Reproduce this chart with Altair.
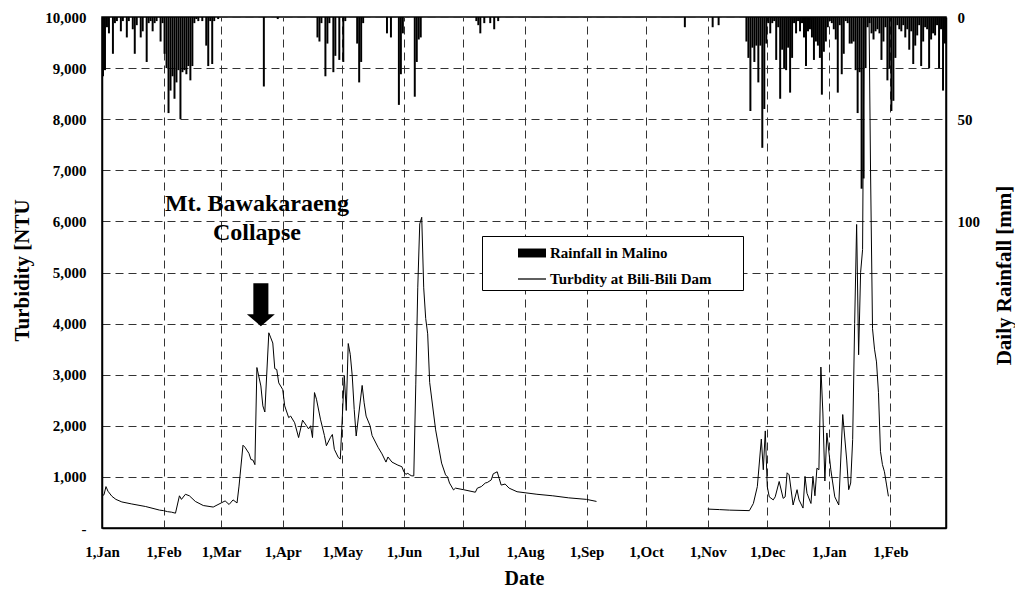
import altair as alt
import pandas as pd

# ---------------- data ----------------
turb_dates = [
    "2004-01-01", "2004-01-02", "2004-01-03", "2004-01-04", "2004-01-06", "2004-01-08", "2004-01-11",
    "2004-01-16", "2004-01-23", "2004-01-30", "2004-02-01", "2004-02-03", "2004-02-05", "2004-02-07",
    "2004-02-09", "2004-02-10", "2004-02-12", "2004-02-14", "2004-02-17", "2004-02-21", "2004-02-26",
    "2004-03-01", "2004-03-03", "2004-03-05", "2004-03-07", "2004-03-09", "2004-03-10", "2004-03-12",
    "2004-03-13", "2004-03-15", "2004-03-16", "2004-03-17", "2004-03-18", "2004-03-19", "2004-03-21",
    "2004-03-22", "2004-03-23", "2004-03-25", "2004-03-26", "2004-03-27", "2004-03-28", "2004-03-29",
    "2004-03-30", "2004-04-01", "2004-04-02", "2004-04-04", "2004-04-05", "2004-04-07", "2004-04-09",
    "2004-04-11", "2004-04-13", "2004-04-14", "2004-04-15", "2004-04-16", "2004-04-17", "2004-04-18",
    "2004-04-20", "2004-04-22", "2004-04-23", "2004-04-25", "2004-04-26", "2004-04-27", "2004-04-29",
    "2004-04-30", "2004-05-02", "2004-05-03", "2004-05-04", "2004-05-05", "2004-05-06", "2004-05-07",
    "2004-05-08", "2004-05-11", "2004-05-12", "2004-05-13", "2004-05-15", "2004-05-16", "2004-05-19",
    "2004-05-21", "2004-05-23", "2004-05-24", "2004-05-26", "2004-05-29", "2004-05-31", "2004-06-01",
    "2004-06-02", "2004-06-03", "2004-06-04", "2004-06-05", "2004-06-06", "2004-06-07", "2004-06-08",
    "2004-06-09", "2004-06-10", "2004-06-11", "2004-06-12", "2004-06-13", "2004-06-14", "2004-06-17",
    "2004-06-20", "2004-06-22", "2004-06-23", "2004-06-24", "2004-06-26", "2004-06-27", "2004-07-01",
    "2004-07-07", "2004-07-08", "2004-07-10", "2004-07-12", "2004-07-13", "2004-07-15", "2004-07-16",
    "2004-07-18", "2004-07-19", "2004-07-20", "2004-07-22", "2004-07-24", "2004-07-28", "2004-08-01",
    "2004-08-07", "2004-08-15", "2004-08-23", "2004-09-01", "2004-09-06",
    "2004-11-01", "2004-11-07", "2004-11-12", "2004-11-22", "2004-11-24", "2004-11-26", "2004-11-28",
    "2004-11-29", "2004-11-30", "2004-12-01", "2004-12-02", "2004-12-04", "2004-12-05", "2004-12-07",
    "2004-12-09", "2004-12-10", "2004-12-11", "2004-12-12", "2004-12-14", "2004-12-16", "2004-12-17",
    "2004-12-19", "2004-12-20", "2004-12-21", "2004-12-23", "2004-12-24", "2004-12-25", "2004-12-26",
    "2004-12-27", "2004-12-28", "2004-12-29", "2004-12-30", "2004-12-31", "2005-01-02", "2005-01-04",
    "2005-01-06", "2005-01-08", "2005-01-10", "2005-01-11", "2005-01-12", "2005-01-13", "2005-01-14",
    "2005-01-15", "2005-01-16", "2005-01-17", "2005-01-18", "2005-01-19", "2005-01-20", "2005-01-21",
    "2005-01-22", "2005-01-23", "2005-01-24", "2005-01-25", "2005-01-26", "2005-01-27", "2005-01-28",
    "2005-01-29", "2005-01-30", "2005-01-31",
]
turb_values = [
    630, 650, 810, 720, 620, 560, 510,
    470, 420, 350, 340, 320, 310, 290,
    630, 560, 660, 630, 520, 440, 410,
    490, 530, 460, 550, 490, 820, 1620,
    1580, 1460, 1340, 1330, 1240, 3140, 2780,
    2390, 2270, 3820, 3720, 3620, 3120, 3100,
    2840, 2710, 2390, 2160, 2190, 2060, 1770,
    2110, 2000, 1940, 2000, 1770, 2650, 2520,
    2130, 1810, 1610, 1770, 1830, 1540, 1380,
    1350, 2980, 2300, 3610, 3400, 2980, 2320,
    1800, 2790, 2450, 2190, 2000, 1810, 1580,
    1450, 1290, 1390, 1290, 1230, 1200, 1100,
    1050, 1070, 1040, 1020, 1020, 2800, 4700,
    5950, 6080, 4700, 4100, 3800, 2850, 1920,
    1270, 1040, 1000, 880, 745, 780, 750,
    700, 780, 810, 880, 890, 940, 1060,
    1100, 970, 840, 860, 780, 710, 690,
    660, 630, 590, 560, 520,
    370, 360, 350, 340, 480, 810, 1740,
    1140, 1900, 810, 610, 550, 610, 910,
    580, 610, 1080, 1040, 450, 750, 550,
    390, 1010, 680, 480, 1010, 630, 1170,
    1140, 3150, 2250, 920, 1860, 1140, 610,
    450, 2220, 1330, 750, 880, 1730, 4000,
    5940, 3390, 5000, 5450, 11500, 12500, 11000,
    7000, 3900, 3500, 3250, 2650, 1500, 1240,
    1100, 860, 620,
]

rain_dates = [
    "2004-01-01", "2004-01-02", "2004-01-03", "2004-01-04", "2004-01-06", "2004-01-07", "2004-01-08",
    "2004-01-10", "2004-01-11", "2004-01-13", "2004-01-14", "2004-01-16", "2004-01-17", "2004-01-18",
    "2004-01-20", "2004-01-21", "2004-01-23", "2004-01-24", "2004-01-25", "2004-01-26", "2004-01-27",
    "2004-01-28", "2004-01-30", "2004-01-31", "2004-02-01", "2004-02-02", "2004-02-03", "2004-02-04",
    "2004-02-05", "2004-02-06", "2004-02-07", "2004-02-08", "2004-02-09", "2004-02-10", "2004-02-11",
    "2004-02-12", "2004-02-13", "2004-02-14", "2004-02-15", "2004-02-16", "2004-02-17", "2004-02-18",
    "2004-02-20", "2004-02-22", "2004-02-23", "2004-02-24", "2004-02-25", "2004-02-26", "2004-02-28",
    "2004-03-22", "2004-03-29", "2004-04-18", "2004-04-19", "2004-04-20", "2004-04-22", "2004-04-23",
    "2004-04-24", "2004-04-26", "2004-04-27", "2004-04-29", "2004-05-01", "2004-05-02", "2004-05-08",
    "2004-05-09", "2004-05-10", "2004-05-11", "2004-05-23", "2004-05-25", "2004-05-29", "2004-05-30",
    "2004-05-31", "2004-06-06", "2004-06-07", "2004-06-08", "2004-06-09", "2004-07-07", "2004-07-08",
    "2004-07-09", "2004-07-11", "2004-07-14", "2004-07-16", "2004-07-18", "2004-10-20", "2004-11-03",
    "2004-11-06", "2004-11-20", "2004-11-21", "2004-11-22", "2004-11-23", "2004-11-24", "2004-11-25",
    "2004-11-26", "2004-11-27", "2004-11-28", "2004-11-29", "2004-11-30", "2004-12-01", "2004-12-02",
    "2004-12-03", "2004-12-04", "2004-12-05", "2004-12-06", "2004-12-07", "2004-12-08", "2004-12-09",
    "2004-12-10", "2004-12-11", "2004-12-12", "2004-12-13", "2004-12-14", "2004-12-15", "2004-12-16",
    "2004-12-17", "2004-12-18", "2004-12-19", "2004-12-20", "2004-12-21", "2004-12-22", "2004-12-23",
    "2004-12-24", "2004-12-25", "2004-12-26", "2004-12-27", "2004-12-28", "2004-12-29", "2004-12-30",
    "2004-12-31", "2005-01-01", "2005-01-02", "2005-01-03", "2005-01-04", "2005-01-05", "2005-01-06",
    "2005-01-07", "2005-01-08", "2005-01-09", "2005-01-10", "2005-01-11", "2005-01-12", "2005-01-13",
    "2005-01-14", "2005-01-15", "2005-01-16", "2005-01-17", "2005-01-18", "2005-01-19", "2005-01-20",
    "2005-01-21", "2005-01-22", "2005-01-23", "2005-01-24", "2005-01-25", "2005-01-26", "2005-01-27",
    "2005-01-28", "2005-01-29", "2005-01-30", "2005-01-31", "2005-02-01", "2005-02-02", "2005-02-03",
    "2005-02-04", "2005-02-05", "2005-02-06", "2005-02-07", "2005-02-08", "2005-02-09", "2005-02-10",
    "2005-02-11", "2005-02-12", "2005-02-13", "2005-02-14", "2005-02-15", "2005-02-16", "2005-02-17",
    "2005-02-18", "2005-02-19", "2005-02-20", "2005-02-21", "2005-02-22", "2005-02-23", "2005-02-24",
    "2005-02-25", "2005-02-26", "2005-02-27", "2005-02-28",
]
rain_mm = [
    29, 26, 5, 8, 18, 3, 2,
    7, 2, 10, 2, 6, 18, 4,
    10, 7, 22, 3, 2, 7, 3,
    2, 12, 3, 18, 25, 47, 36,
    29, 40, 32, 26, 50, 27, 26,
    28, 24, 31, 24, 3, 1, 2,
    2, 14, 24, 2, 23, 2, 1,
    34, 1, 10, 12, 3, 29, 13,
    3, 27, 19, 21, 22, 2, 13,
    32, 22, 3, 8, 10, 43, 28,
    8, 39, 22, 11, 10, 2, 4,
    8, 3, 3, 6, 2, 5, 5,
    4, 12, 20, 46, 15, 22, 14,
    32, 14, 64, 45, 13, 3, 8,
    3, 2, 21, 5, 40, 16, 25,
    26, 15, 37, 20, 3, 8, 2,
    7, 3, 10, 24, 7, 6, 10,
    21, 12, 14, 20, 38, 17, 12,
    5, 2, 3, 6, 11, 37, 4,
    28, 18, 2, 3, 13, 13, 12,
    26, 47, 27, 84, 79, 25, 5,
    3, 8, 11, 7, 6, 8, 21,
    12, 5, 31, 25, 46, 41, 20,
    4, 6, 7, 4, 10, 6, 16,
    7, 23, 14, 9, 4, 24, 12,
    5, 6, 25, 11, 8, 9, 4,
    25, 6, 36, 13,
]

legend_series = ["Rainfall in Malino", "Turbdity at Bili-Bili Dam"]

annot_dates = ["2004-03-19", "2004-03-19"]
annot_values = [6196, 5627]
annot_texts = ["Mt. Bawakaraeng", "Collapse"]

arrow_dates = ["2004-03-21"]
arrow_values = [4370]

month_ticks = [(2004, m) for m in range(1, 13)] + [(2005, 1), (2005, 2)]
turb_ticks = list(range(0, 10001, 1000))
rain_ticks = [0, 50, 100]

# ---------------- tables ----------------
turb = pd.DataFrame({"date": turb_dates, "value": turb_values})
turb["seg"] = ["b" if d >= "2004-11-01" else "a" for d in turb["date"]]

rain = pd.DataFrame({"date": rain_dates, "mm": rain_mm})
rain["end"] = (pd.to_datetime(rain["date"]) + pd.Timedelta(days=1)).dt.strftime("%Y-%m-%d")

annot = pd.DataFrame({"date": annot_dates, "value": annot_values, "text": annot_texts})
arrow = pd.DataFrame({"date": arrow_dates, "value": arrow_values})
leg = pd.DataFrame({"series": legend_series})

FONT = "Liberation Serif"

x_scale = alt.Scale(
    type="utc",
    domain=[alt.DateTime(year=2004, month=1, date=1, utc=True),
            alt.DateTime(year=2005, month=3, date=1, utc=True)],
)
x_axis = alt.Axis(
    title="Date",
    values=[alt.DateTime(year=y, month=m, date=1, utc=True) for y, m in month_ticks],
    labelExpr="'1,' + utcFormat(datum.value, '%b')",
    labelFlush=False, labelAlign="center",
    grid=True, ticks=False, tickSize=0, labelPadding=16,
    labelFontSize=15, titleFontSize=20, titleY=50, titleBaseline="middle",
    domain=True,
)
turb_scale = alt.Scale(domain=[0, 10000], nice=False)
turb_axis = alt.Axis(
    title="Turbidity [NTU",
    values=turb_ticks,
    labelExpr="datum.value == 0 ? '-' : format(datum.value, ',')",
    labelFlush=False,
    grid=True, ticks=False, tickSize=0, labelPadding=16, labelFontSize=15,
    titleFontSize=21, titleAngle=270, titleX=-80, titleY=253,
    titleBaseline="middle", titleAlign="center", orient="left",
)
rain_scale = alt.Scale(domain=[0, 250], reverse=True, nice=False, zero=True)
rain_axis = alt.Axis(
    title="Daily Rainfall [mm]",
    values=rain_ticks, orient="right", grid=False, ticks=False, tickSize=0,
    labelFlush=False,
    labelPadding=11, labelFontSize=15, titleFontSize=21, titleAngle=270,
    titleX=58, titleY=258, titleBaseline="middle", titleAlign="center",
)

X = alt.X("date:T", scale=x_scale, axis=x_axis)
Y = alt.Y("value:Q", scale=turb_scale, axis=turb_axis)

rain_layer = alt.Chart(rain).mark_bar(color="black", stroke=None).encode(
    x=X,
    x2="end:T",
    y=alt.Y("mm:Q", scale=rain_scale, axis=rain_axis),
    y2=alt.datum(0),
)

line_layer = alt.Chart(turb).mark_line(color="black", strokeWidth=1, clip=True).encode(
    x=X, y=Y, detail="seg:N",
)

text_layer = alt.Chart(annot).mark_text(
    font=FONT, fontSize=24, fontWeight="bold", color="black",
    align="center", baseline="alphabetic",
).encode(x=X, y=Y, text="text:N")

arrow_path = "M-0.35,-1H0.35V0.44H0.65L0,1L-0.65,0.44H-0.35Z"
arrow_layer = alt.Chart(arrow).mark_point(
    shape=arrow_path, filled=True, color="black", size=1849, opacity=1,
).encode(x=X, y=Y)

rect_path = "M-1,-0.32H1V0.32H-1Z"
line_path = "M-1,-0.045H1V0.045H-1Z"
legend_layer = alt.Chart(leg).mark_point(
    filled=True, fill="black", clip=True,
).encode(
    x=alt.value(-500), y=alt.value(-500),
    shape=alt.Shape(
        "series:N",
        scale=alt.Scale(domain=legend_series, range=[rect_path, line_path]),
        legend=alt.Legend(
            title="|", titleOrient="right", titleColor="white", titlePadding=24,
            titleFontSize=14,
            orient="none", legendX=380, legendY=219,
            direction="vertical", strokeColor="black", fillColor="white",
            padding=3, symbolOffset=33, labelOffset=4, rowPadding=4,
            symbolSize=784, symbolStrokeWidth=0, symbolFillColor="black",
            symbolOpacity=1,
            labelFont=FONT, labelFontWeight="bold", labelFontSize=15,
            labelColor="black", labelLimit=400,
        ),
    ),
)

left = alt.layer(line_layer, text_layer, arrow_layer, legend_layer)
chart = alt.layer(rain_layer, left).resolve_scale(y="independent").properties(
    width=844, height=511,
    autosize=alt.AutoSizeParams(type="none"),
    padding={"left": 94, "top": 9, "right": 69, "bottom": 64},
).configure_view(
    stroke="black", strokeWidth=1.5,
).configure_axis(
    labelFont=FONT, labelFontWeight="bold", labelColor="black",
    titleFont=FONT, titleFontWeight="bold", titleColor="black",
    domainColor="black", domainWidth=1.5,
    gridColor="#333333", gridDash=[8, 5], gridWidth=1, gridOpacity=1,
)

chart.save("out.html", embed_options={"renderer": "svg", "actions": False})
